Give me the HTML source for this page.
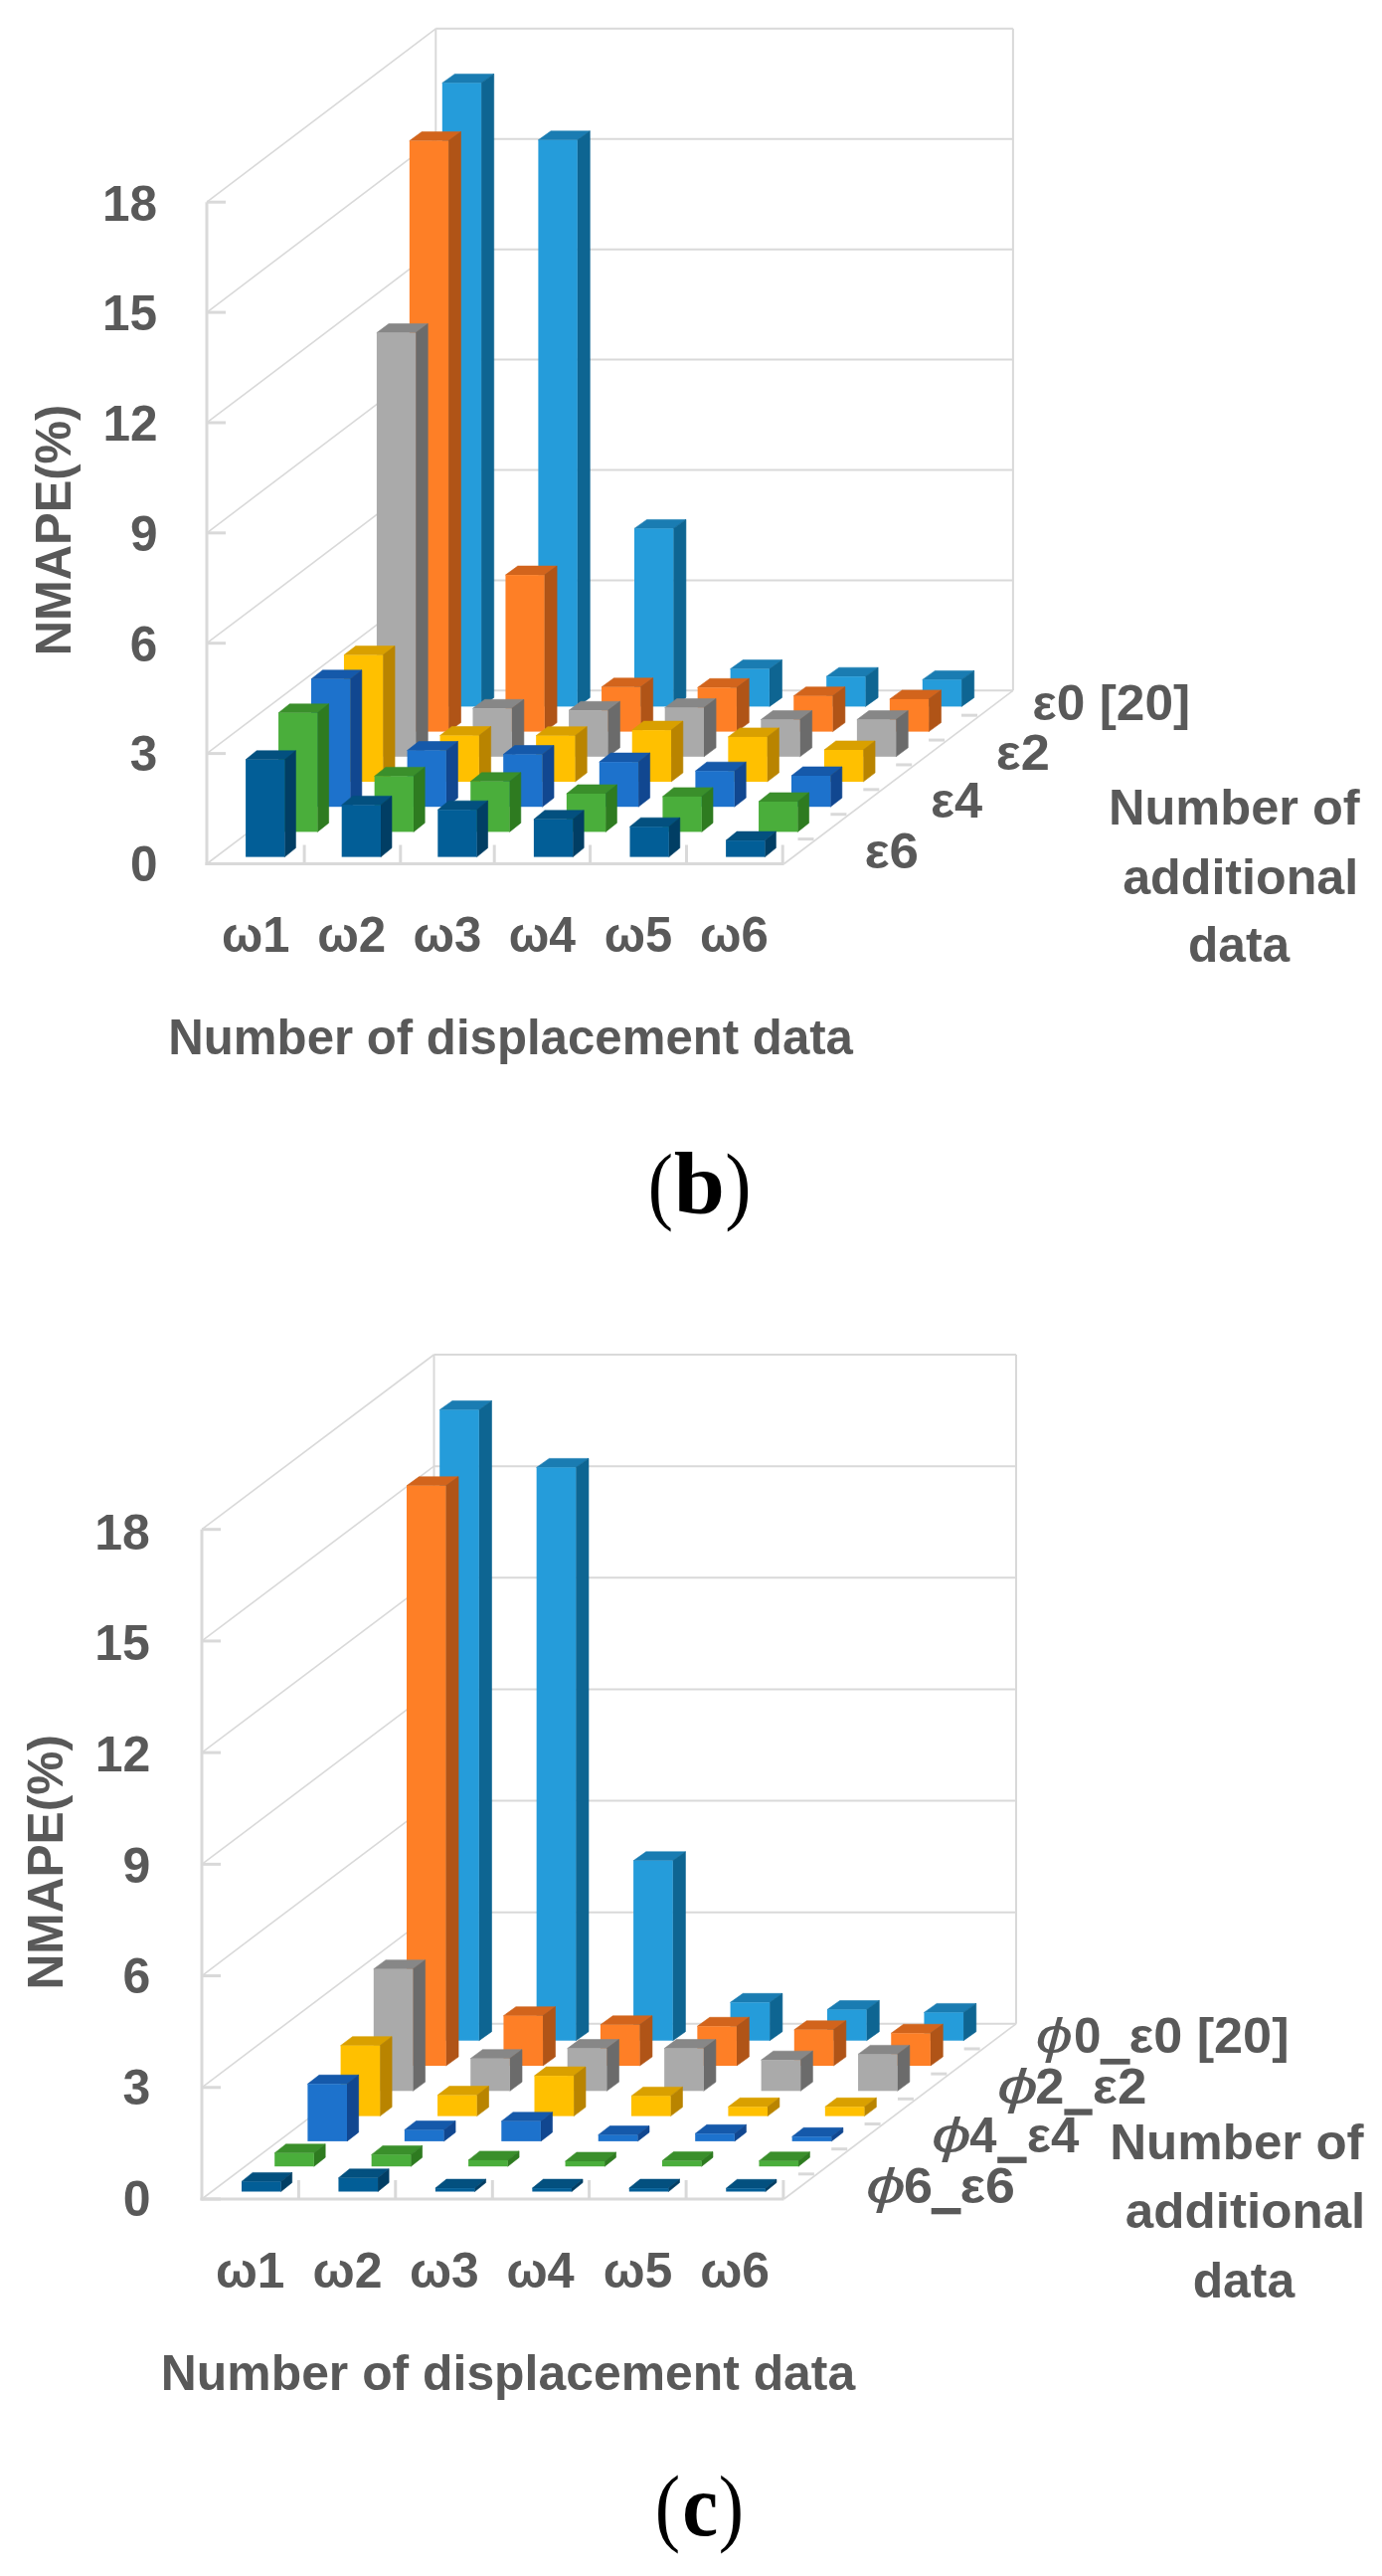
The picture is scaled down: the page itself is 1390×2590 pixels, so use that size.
<!DOCTYPE html>
<html><head><meta charset="utf-8"><title>NMAPE 3D charts</title>
<style>html,body{margin:0;padding:0;background:#fff;width:1390px;height:2590px;overflow:hidden}svg{display:block}text{font-kerning:none}</style>
</head><body>
<svg width="1390" height="2590" viewBox="0 0 1390 2590">
<rect width="1390" height="2590" fill="#fff"/>
<line x1="438.30" y1="28.80" x2="1018.90" y2="28.80" stroke="#D9D9D9" stroke-width="2"/>
<line x1="438.30" y1="139.72" x2="1018.90" y2="139.72" stroke="#D9D9D9" stroke-width="2"/>
<line x1="438.30" y1="250.63" x2="1018.90" y2="250.63" stroke="#D9D9D9" stroke-width="2"/>
<line x1="438.30" y1="361.55" x2="1018.90" y2="361.55" stroke="#D9D9D9" stroke-width="2"/>
<line x1="438.30" y1="472.47" x2="1018.90" y2="472.47" stroke="#D9D9D9" stroke-width="2"/>
<line x1="438.30" y1="583.38" x2="1018.90" y2="583.38" stroke="#D9D9D9" stroke-width="2"/>
<line x1="438.30" y1="694.30" x2="1018.90" y2="694.30" stroke="#D9D9D9" stroke-width="2"/>
<line x1="208.00" y1="203.20" x2="438.30" y2="28.80" stroke="#D9D9D9" stroke-width="1.6"/>
<line x1="208.00" y1="314.08" x2="438.30" y2="139.72" stroke="#D9D9D9" stroke-width="1.6"/>
<line x1="208.00" y1="424.97" x2="438.30" y2="250.63" stroke="#D9D9D9" stroke-width="1.6"/>
<line x1="208.00" y1="535.85" x2="438.30" y2="361.55" stroke="#D9D9D9" stroke-width="1.6"/>
<line x1="208.00" y1="646.73" x2="438.30" y2="472.47" stroke="#D9D9D9" stroke-width="1.6"/>
<line x1="208.00" y1="757.62" x2="438.30" y2="583.38" stroke="#D9D9D9" stroke-width="1.6"/>
<line x1="208.00" y1="868.50" x2="438.30" y2="694.30" stroke="#D9D9D9" stroke-width="1.6"/>
<line x1="438.30" y1="28.80" x2="438.30" y2="694.30" stroke="#D9D9D9" stroke-width="2"/>
<line x1="1018.90" y1="28.80" x2="1018.90" y2="694.30" stroke="#D9D9D9" stroke-width="2"/>
<line x1="788.60" y1="868.50" x2="1018.90" y2="694.30" stroke="#D9D9D9" stroke-width="1.6"/>
<line x1="802.50" y1="843.61" x2="818.50" y2="843.61" stroke="#D9D9D9" stroke-width="3"/>
<line x1="835.40" y1="818.73" x2="851.40" y2="818.73" stroke="#D9D9D9" stroke-width="3"/>
<line x1="868.30" y1="793.84" x2="884.30" y2="793.84" stroke="#D9D9D9" stroke-width="3"/>
<line x1="901.20" y1="768.96" x2="917.20" y2="768.96" stroke="#D9D9D9" stroke-width="3"/>
<line x1="934.10" y1="744.07" x2="950.10" y2="744.07" stroke="#D9D9D9" stroke-width="3"/>
<line x1="967.00" y1="719.19" x2="983.00" y2="719.19" stroke="#D9D9D9" stroke-width="3"/>
<polygon points="444.80,83.40 484.10,83.40 496.72,74.40 457.42,74.40" fill="#1A7CB2" stroke="#1A7CB2" stroke-width="0.6"/>
<polygon points="484.10,83.40 496.72,74.40 496.72,701.40 484.10,710.40" fill="#0E6592" stroke="#0E6592" stroke-width="0.6"/>
<rect x="444.80" y="83.40" width="39.30" height="627.00" fill="#259CDA"/>
<polygon points="541.40,140.80 580.70,140.80 593.32,131.80 554.02,131.80" fill="#1A7CB2" stroke="#1A7CB2" stroke-width="0.6"/>
<polygon points="580.70,140.80 593.32,131.80 593.32,701.40 580.70,710.40" fill="#0E6592" stroke="#0E6592" stroke-width="0.6"/>
<rect x="541.40" y="140.80" width="39.30" height="569.60" fill="#259CDA"/>
<polygon points="638.00,531.40 677.30,531.40 689.92,522.40 650.62,522.40" fill="#1A7CB2" stroke="#1A7CB2" stroke-width="0.6"/>
<polygon points="677.30,531.40 689.92,522.40 689.92,701.40 677.30,710.40" fill="#0E6592" stroke="#0E6592" stroke-width="0.6"/>
<rect x="638.00" y="531.40" width="39.30" height="179.00" fill="#259CDA"/>
<polygon points="734.60,672.60 773.90,672.60 786.52,663.60 747.22,663.60" fill="#1A7CB2" stroke="#1A7CB2" stroke-width="0.6"/>
<polygon points="773.90,672.60 786.52,663.60 786.52,701.40 773.90,710.40" fill="#0E6592" stroke="#0E6592" stroke-width="0.6"/>
<rect x="734.60" y="672.60" width="39.30" height="37.80" fill="#259CDA"/>
<polygon points="831.20,680.20 870.50,680.20 883.12,671.20 843.82,671.20" fill="#1A7CB2" stroke="#1A7CB2" stroke-width="0.6"/>
<polygon points="870.50,680.20 883.12,671.20 883.12,701.40 870.50,710.40" fill="#0E6592" stroke="#0E6592" stroke-width="0.6"/>
<rect x="831.20" y="680.20" width="39.30" height="30.20" fill="#259CDA"/>
<polygon points="927.80,683.40 967.10,683.40 979.72,674.40 940.42,674.40" fill="#1A7CB2" stroke="#1A7CB2" stroke-width="0.6"/>
<polygon points="967.10,683.40 979.72,674.40 979.72,701.40 967.10,710.40" fill="#0E6592" stroke="#0E6592" stroke-width="0.6"/>
<rect x="927.80" y="683.40" width="39.30" height="27.00" fill="#259CDA"/>
<polygon points="411.85,141.60 451.15,141.60 463.50,132.60 424.20,132.60" fill="#D2641C" stroke="#D2641C" stroke-width="0.6"/>
<polygon points="451.15,141.60 463.50,132.60 463.50,726.60 451.15,735.60" fill="#B05417" stroke="#B05417" stroke-width="0.6"/>
<rect x="411.85" y="141.60" width="39.30" height="594.00" fill="#FE7F26"/>
<polygon points="508.45,578.10 547.75,578.10 560.10,569.10 520.80,569.10" fill="#D2641C" stroke="#D2641C" stroke-width="0.6"/>
<polygon points="547.75,578.10 560.10,569.10 560.10,726.60 547.75,735.60" fill="#B05417" stroke="#B05417" stroke-width="0.6"/>
<rect x="508.45" y="578.10" width="39.30" height="157.50" fill="#FE7F26"/>
<polygon points="605.05,690.80 644.35,690.80 656.70,681.80 617.40,681.80" fill="#D2641C" stroke="#D2641C" stroke-width="0.6"/>
<polygon points="644.35,690.80 656.70,681.80 656.70,726.60 644.35,735.60" fill="#B05417" stroke="#B05417" stroke-width="0.6"/>
<rect x="605.05" y="690.80" width="39.30" height="44.80" fill="#FE7F26"/>
<polygon points="701.65,691.30 740.95,691.30 753.30,682.30 714.00,682.30" fill="#D2641C" stroke="#D2641C" stroke-width="0.6"/>
<polygon points="740.95,691.30 753.30,682.30 753.30,726.60 740.95,735.60" fill="#B05417" stroke="#B05417" stroke-width="0.6"/>
<rect x="701.65" y="691.30" width="39.30" height="44.30" fill="#FE7F26"/>
<polygon points="798.25,699.70 837.55,699.70 849.90,690.70 810.60,690.70" fill="#D2641C" stroke="#D2641C" stroke-width="0.6"/>
<polygon points="837.55,699.70 849.90,690.70 849.90,726.60 837.55,735.60" fill="#B05417" stroke="#B05417" stroke-width="0.6"/>
<rect x="798.25" y="699.70" width="39.30" height="35.90" fill="#FE7F26"/>
<polygon points="894.85,702.90 934.15,702.90 946.50,693.90 907.20,693.90" fill="#D2641C" stroke="#D2641C" stroke-width="0.6"/>
<polygon points="934.15,702.90 946.50,693.90 946.50,726.60 934.15,735.60" fill="#B05417" stroke="#B05417" stroke-width="0.6"/>
<rect x="894.85" y="702.90" width="39.30" height="32.70" fill="#FE7F26"/>
<polygon points="378.90,334.60 418.20,334.60 430.28,325.60 390.98,325.60" fill="#878787" stroke="#878787" stroke-width="0.6"/>
<polygon points="418.20,334.60 430.28,325.60 430.28,751.80 418.20,760.80" fill="#6B6B6B" stroke="#6B6B6B" stroke-width="0.6"/>
<rect x="378.90" y="334.60" width="39.30" height="426.20" fill="#AAAAAA"/>
<polygon points="475.50,712.30 514.80,712.30 526.88,703.30 487.58,703.30" fill="#878787" stroke="#878787" stroke-width="0.6"/>
<polygon points="514.80,712.30 526.88,703.30 526.88,751.80 514.80,760.80" fill="#6B6B6B" stroke="#6B6B6B" stroke-width="0.6"/>
<rect x="475.50" y="712.30" width="39.30" height="48.50" fill="#AAAAAA"/>
<polygon points="572.10,714.30 611.40,714.30 623.48,705.30 584.18,705.30" fill="#878787" stroke="#878787" stroke-width="0.6"/>
<polygon points="611.40,714.30 623.48,705.30 623.48,751.80 611.40,760.80" fill="#6B6B6B" stroke="#6B6B6B" stroke-width="0.6"/>
<rect x="572.10" y="714.30" width="39.30" height="46.50" fill="#AAAAAA"/>
<polygon points="668.70,711.50 708.00,711.50 720.08,702.50 680.78,702.50" fill="#878787" stroke="#878787" stroke-width="0.6"/>
<polygon points="708.00,711.50 720.08,702.50 720.08,751.80 708.00,760.80" fill="#6B6B6B" stroke="#6B6B6B" stroke-width="0.6"/>
<rect x="668.70" y="711.50" width="39.30" height="49.30" fill="#AAAAAA"/>
<polygon points="765.30,723.60 804.60,723.60 816.68,714.60 777.38,714.60" fill="#878787" stroke="#878787" stroke-width="0.6"/>
<polygon points="804.60,723.60 816.68,714.60 816.68,751.80 804.60,760.80" fill="#6B6B6B" stroke="#6B6B6B" stroke-width="0.6"/>
<rect x="765.30" y="723.60" width="39.30" height="37.20" fill="#AAAAAA"/>
<polygon points="861.90,723.60 901.20,723.60 913.28,714.60 873.98,714.60" fill="#878787" stroke="#878787" stroke-width="0.6"/>
<polygon points="901.20,723.60 913.28,714.60 913.28,751.80 901.20,760.80" fill="#6B6B6B" stroke="#6B6B6B" stroke-width="0.6"/>
<rect x="861.90" y="723.60" width="39.30" height="37.20" fill="#AAAAAA"/>
<polygon points="345.95,658.60 385.25,658.60 397.06,649.60 357.76,649.60" fill="#D9A000" stroke="#D9A000" stroke-width="0.6"/>
<polygon points="385.25,658.60 397.06,649.60 397.06,777.00 385.25,786.00" fill="#B98400" stroke="#B98400" stroke-width="0.6"/>
<rect x="345.95" y="658.60" width="39.30" height="127.40" fill="#FFC000"/>
<polygon points="442.55,739.50 481.85,739.50 493.66,730.50 454.36,730.50" fill="#D9A000" stroke="#D9A000" stroke-width="0.6"/>
<polygon points="481.85,739.50 493.66,730.50 493.66,777.00 481.85,786.00" fill="#B98400" stroke="#B98400" stroke-width="0.6"/>
<rect x="442.55" y="739.50" width="39.30" height="46.50" fill="#FFC000"/>
<polygon points="539.15,739.70 578.45,739.70 590.26,730.70 550.96,730.70" fill="#D9A000" stroke="#D9A000" stroke-width="0.6"/>
<polygon points="578.45,739.70 590.26,730.70 590.26,777.00 578.45,786.00" fill="#B98400" stroke="#B98400" stroke-width="0.6"/>
<rect x="539.15" y="739.70" width="39.30" height="46.30" fill="#FFC000"/>
<polygon points="635.75,734.10 675.05,734.10 686.86,725.10 647.56,725.10" fill="#D9A000" stroke="#D9A000" stroke-width="0.6"/>
<polygon points="675.05,734.10 686.86,725.10 686.86,777.00 675.05,786.00" fill="#B98400" stroke="#B98400" stroke-width="0.6"/>
<rect x="635.75" y="734.10" width="39.30" height="51.90" fill="#FFC000"/>
<polygon points="732.35,740.90 771.65,740.90 783.46,731.90 744.16,731.90" fill="#D9A000" stroke="#D9A000" stroke-width="0.6"/>
<polygon points="771.65,740.90 783.46,731.90 783.46,777.00 771.65,786.00" fill="#B98400" stroke="#B98400" stroke-width="0.6"/>
<rect x="732.35" y="740.90" width="39.30" height="45.10" fill="#FFC000"/>
<polygon points="828.95,754.00 868.25,754.00 880.06,745.00 840.76,745.00" fill="#D9A000" stroke="#D9A000" stroke-width="0.6"/>
<polygon points="868.25,754.00 880.06,745.00 880.06,777.00 868.25,786.00" fill="#B98400" stroke="#B98400" stroke-width="0.6"/>
<rect x="828.95" y="754.00" width="39.30" height="32.00" fill="#FFC000"/>
<polygon points="313.00,682.80 352.30,682.80 363.84,673.80 324.54,673.80" fill="#1559AA" stroke="#1559AA" stroke-width="0.6"/>
<polygon points="352.30,682.80 363.84,673.80 363.84,802.20 352.30,811.20" fill="#114790" stroke="#114790" stroke-width="0.6"/>
<rect x="313.00" y="682.80" width="39.30" height="128.40" fill="#1D72CC"/>
<polygon points="409.60,754.50 448.90,754.50 460.44,745.50 421.14,745.50" fill="#1559AA" stroke="#1559AA" stroke-width="0.6"/>
<polygon points="448.90,754.50 460.44,745.50 460.44,802.20 448.90,811.20" fill="#114790" stroke="#114790" stroke-width="0.6"/>
<rect x="409.60" y="754.50" width="39.30" height="56.70" fill="#1D72CC"/>
<polygon points="506.20,758.50 545.50,758.50 557.04,749.50 517.74,749.50" fill="#1559AA" stroke="#1559AA" stroke-width="0.6"/>
<polygon points="545.50,758.50 557.04,749.50 557.04,802.20 545.50,811.20" fill="#114790" stroke="#114790" stroke-width="0.6"/>
<rect x="506.20" y="758.50" width="39.30" height="52.70" fill="#1D72CC"/>
<polygon points="602.80,766.10 642.10,766.10 653.64,757.10 614.34,757.10" fill="#1559AA" stroke="#1559AA" stroke-width="0.6"/>
<polygon points="642.10,766.10 653.64,757.10 653.64,802.20 642.10,811.20" fill="#114790" stroke="#114790" stroke-width="0.6"/>
<rect x="602.80" y="766.10" width="39.30" height="45.10" fill="#1D72CC"/>
<polygon points="699.40,775.20 738.70,775.20 750.24,766.20 710.94,766.20" fill="#1559AA" stroke="#1559AA" stroke-width="0.6"/>
<polygon points="738.70,775.20 750.24,766.20 750.24,802.20 738.70,811.20" fill="#114790" stroke="#114790" stroke-width="0.6"/>
<rect x="699.40" y="775.20" width="39.30" height="36.00" fill="#1D72CC"/>
<polygon points="796.00,780.00 835.30,780.00 846.84,771.00 807.54,771.00" fill="#1559AA" stroke="#1559AA" stroke-width="0.6"/>
<polygon points="835.30,780.00 846.84,771.00 846.84,802.20 835.30,811.20" fill="#114790" stroke="#114790" stroke-width="0.6"/>
<rect x="796.00" y="780.00" width="39.30" height="31.20" fill="#1D72CC"/>
<polygon points="280.05,716.80 319.35,716.80 330.62,707.80 291.32,707.80" fill="#3A8F2B" stroke="#3A8F2B" stroke-width="0.6"/>
<polygon points="319.35,716.80 330.62,707.80 330.62,827.40 319.35,836.40" fill="#2E7B20" stroke="#2E7B20" stroke-width="0.6"/>
<rect x="280.05" y="716.80" width="39.30" height="119.60" fill="#4AAE3B"/>
<polygon points="376.65,780.40 415.95,780.40 427.22,771.40 387.92,771.40" fill="#3A8F2B" stroke="#3A8F2B" stroke-width="0.6"/>
<polygon points="415.95,780.40 427.22,771.40 427.22,827.40 415.95,836.40" fill="#2E7B20" stroke="#2E7B20" stroke-width="0.6"/>
<rect x="376.65" y="780.40" width="39.30" height="56.00" fill="#4AAE3B"/>
<polygon points="473.25,785.80 512.55,785.80 523.82,776.80 484.52,776.80" fill="#3A8F2B" stroke="#3A8F2B" stroke-width="0.6"/>
<polygon points="512.55,785.80 523.82,776.80 523.82,827.40 512.55,836.40" fill="#2E7B20" stroke="#2E7B20" stroke-width="0.6"/>
<rect x="473.25" y="785.80" width="39.30" height="50.60" fill="#4AAE3B"/>
<polygon points="569.85,798.00 609.15,798.00 620.42,789.00 581.12,789.00" fill="#3A8F2B" stroke="#3A8F2B" stroke-width="0.6"/>
<polygon points="609.15,798.00 620.42,789.00 620.42,827.40 609.15,836.40" fill="#2E7B20" stroke="#2E7B20" stroke-width="0.6"/>
<rect x="569.85" y="798.00" width="39.30" height="38.40" fill="#4AAE3B"/>
<polygon points="666.45,800.90 705.75,800.90 717.02,791.90 677.72,791.90" fill="#3A8F2B" stroke="#3A8F2B" stroke-width="0.6"/>
<polygon points="705.75,800.90 717.02,791.90 717.02,827.40 705.75,836.40" fill="#2E7B20" stroke="#2E7B20" stroke-width="0.6"/>
<rect x="666.45" y="800.90" width="39.30" height="35.50" fill="#4AAE3B"/>
<polygon points="763.05,806.00 802.35,806.00 813.62,797.00 774.32,797.00" fill="#3A8F2B" stroke="#3A8F2B" stroke-width="0.6"/>
<polygon points="802.35,806.00 813.62,797.00 813.62,827.40 802.35,836.40" fill="#2E7B20" stroke="#2E7B20" stroke-width="0.6"/>
<rect x="763.05" y="806.00" width="39.30" height="30.40" fill="#4AAE3B"/>
<polygon points="247.10,763.80 286.40,763.80 297.40,754.80 258.10,754.80" fill="#03507F" stroke="#03507F" stroke-width="0.6"/>
<polygon points="286.40,763.80 297.40,754.80 297.40,852.60 286.40,861.60" fill="#013E64" stroke="#013E64" stroke-width="0.6"/>
<rect x="247.10" y="763.80" width="39.30" height="97.80" fill="#025E97"/>
<polygon points="343.70,809.40 383.00,809.40 394.00,800.40 354.70,800.40" fill="#03507F" stroke="#03507F" stroke-width="0.6"/>
<polygon points="383.00,809.40 394.00,800.40 394.00,852.60 383.00,861.60" fill="#013E64" stroke="#013E64" stroke-width="0.6"/>
<rect x="343.70" y="809.40" width="39.30" height="52.20" fill="#025E97"/>
<polygon points="440.30,814.20 479.60,814.20 490.60,805.20 451.30,805.20" fill="#03507F" stroke="#03507F" stroke-width="0.6"/>
<polygon points="479.60,814.20 490.60,805.20 490.60,852.60 479.60,861.60" fill="#013E64" stroke="#013E64" stroke-width="0.6"/>
<rect x="440.30" y="814.20" width="39.30" height="47.40" fill="#025E97"/>
<polygon points="536.90,823.80 576.20,823.80 587.20,814.80 547.90,814.80" fill="#03507F" stroke="#03507F" stroke-width="0.6"/>
<polygon points="576.20,823.80 587.20,814.80 587.20,852.60 576.20,861.60" fill="#013E64" stroke="#013E64" stroke-width="0.6"/>
<rect x="536.90" y="823.80" width="39.30" height="37.80" fill="#025E97"/>
<polygon points="633.50,831.20 672.80,831.20 683.80,822.20 644.50,822.20" fill="#03507F" stroke="#03507F" stroke-width="0.6"/>
<polygon points="672.80,831.20 683.80,822.20 683.80,852.60 672.80,861.60" fill="#013E64" stroke="#013E64" stroke-width="0.6"/>
<rect x="633.50" y="831.20" width="39.30" height="30.40" fill="#025E97"/>
<polygon points="730.10,845.10 769.40,845.10 780.40,836.10 741.10,836.10" fill="#03507F" stroke="#03507F" stroke-width="0.6"/>
<polygon points="769.40,845.10 780.40,836.10 780.40,852.60 769.40,861.60" fill="#013E64" stroke="#013E64" stroke-width="0.6"/>
<rect x="730.10" y="845.10" width="39.30" height="16.50" fill="#025E97"/>
<line x1="208.00" y1="203.20" x2="208.00" y2="870.00" stroke="#D9D9D9" stroke-width="3"/>
<line x1="206.50" y1="868.50" x2="788.60" y2="868.50" stroke="#D9D9D9" stroke-width="3"/>
<line x1="208.00" y1="203.20" x2="227.00" y2="203.20" stroke="#D9D9D9" stroke-width="3"/>
<line x1="208.00" y1="314.08" x2="227.00" y2="314.08" stroke="#D9D9D9" stroke-width="3"/>
<line x1="208.00" y1="424.97" x2="227.00" y2="424.97" stroke="#D9D9D9" stroke-width="3"/>
<line x1="208.00" y1="535.85" x2="227.00" y2="535.85" stroke="#D9D9D9" stroke-width="3"/>
<line x1="208.00" y1="646.73" x2="227.00" y2="646.73" stroke="#D9D9D9" stroke-width="3"/>
<line x1="208.00" y1="757.62" x2="227.00" y2="757.62" stroke="#D9D9D9" stroke-width="3"/>
<line x1="208.00" y1="868.50" x2="227.00" y2="868.50" stroke="#D9D9D9" stroke-width="3"/>
<line x1="306.10" y1="849.50" x2="306.10" y2="868.50" stroke="#D9D9D9" stroke-width="3"/>
<line x1="402.80" y1="849.50" x2="402.80" y2="868.50" stroke="#D9D9D9" stroke-width="3"/>
<line x1="497.20" y1="849.50" x2="497.20" y2="868.50" stroke="#D9D9D9" stroke-width="3"/>
<line x1="593.60" y1="849.50" x2="593.60" y2="868.50" stroke="#D9D9D9" stroke-width="3"/>
<line x1="690.50" y1="849.50" x2="690.50" y2="868.50" stroke="#D9D9D9" stroke-width="3"/>
<line x1="787.20" y1="849.50" x2="787.20" y2="868.50" stroke="#D9D9D9" stroke-width="3"/>
<line x1="436.50" y1="1362.00" x2="1022.00" y2="1362.00" stroke="#D9D9D9" stroke-width="2"/>
<line x1="436.50" y1="1474.13" x2="1022.00" y2="1474.13" stroke="#D9D9D9" stroke-width="2"/>
<line x1="436.50" y1="1586.27" x2="1022.00" y2="1586.27" stroke="#D9D9D9" stroke-width="2"/>
<line x1="436.50" y1="1698.40" x2="1022.00" y2="1698.40" stroke="#D9D9D9" stroke-width="2"/>
<line x1="436.50" y1="1810.53" x2="1022.00" y2="1810.53" stroke="#D9D9D9" stroke-width="2"/>
<line x1="436.50" y1="1922.67" x2="1022.00" y2="1922.67" stroke="#D9D9D9" stroke-width="2"/>
<line x1="436.50" y1="2034.80" x2="1022.00" y2="2034.80" stroke="#D9D9D9" stroke-width="2"/>
<line x1="203.00" y1="1537.70" x2="436.50" y2="1362.00" stroke="#D9D9D9" stroke-width="1.6"/>
<line x1="203.00" y1="1649.92" x2="436.50" y2="1474.13" stroke="#D9D9D9" stroke-width="1.6"/>
<line x1="203.00" y1="1762.13" x2="436.50" y2="1586.27" stroke="#D9D9D9" stroke-width="1.6"/>
<line x1="203.00" y1="1874.35" x2="436.50" y2="1698.40" stroke="#D9D9D9" stroke-width="1.6"/>
<line x1="203.00" y1="1986.57" x2="436.50" y2="1810.53" stroke="#D9D9D9" stroke-width="1.6"/>
<line x1="203.00" y1="2098.78" x2="436.50" y2="1922.67" stroke="#D9D9D9" stroke-width="1.6"/>
<line x1="203.00" y1="2211.00" x2="436.50" y2="2034.80" stroke="#D9D9D9" stroke-width="1.6"/>
<line x1="436.50" y1="1362.00" x2="436.50" y2="2034.80" stroke="#D9D9D9" stroke-width="2"/>
<line x1="1022.00" y1="1362.00" x2="1022.00" y2="2034.80" stroke="#D9D9D9" stroke-width="2"/>
<line x1="788.50" y1="2211.00" x2="1022.00" y2="2034.80" stroke="#D9D9D9" stroke-width="1.6"/>
<line x1="802.86" y1="2185.83" x2="818.86" y2="2185.83" stroke="#D9D9D9" stroke-width="3"/>
<line x1="836.21" y1="2160.66" x2="852.21" y2="2160.66" stroke="#D9D9D9" stroke-width="3"/>
<line x1="869.57" y1="2135.49" x2="885.57" y2="2135.49" stroke="#D9D9D9" stroke-width="3"/>
<line x1="902.93" y1="2110.31" x2="918.93" y2="2110.31" stroke="#D9D9D9" stroke-width="3"/>
<line x1="936.29" y1="2085.14" x2="952.29" y2="2085.14" stroke="#D9D9D9" stroke-width="3"/>
<line x1="969.64" y1="2059.97" x2="985.64" y2="2059.97" stroke="#D9D9D9" stroke-width="3"/>
<polygon points="442.20,1417.50 481.80,1417.50 494.52,1408.50 454.92,1408.50" fill="#1A7CB2" stroke="#1A7CB2" stroke-width="0.6"/>
<polygon points="481.80,1417.50 494.52,1408.50 494.52,2042.70 481.80,2051.70" fill="#0E6592" stroke="#0E6592" stroke-width="0.6"/>
<rect x="442.20" y="1417.50" width="39.60" height="634.20" fill="#259CDA"/>
<polygon points="539.65,1475.40 579.25,1475.40 591.97,1466.40 552.37,1466.40" fill="#1A7CB2" stroke="#1A7CB2" stroke-width="0.6"/>
<polygon points="579.25,1475.40 591.97,1466.40 591.97,2042.70 579.25,2051.70" fill="#0E6592" stroke="#0E6592" stroke-width="0.6"/>
<rect x="539.65" y="1475.40" width="39.60" height="576.30" fill="#259CDA"/>
<polygon points="637.10,1870.80 676.70,1870.80 689.42,1861.80 649.82,1861.80" fill="#1A7CB2" stroke="#1A7CB2" stroke-width="0.6"/>
<polygon points="676.70,1870.80 689.42,1861.80 689.42,2042.70 676.70,2051.70" fill="#0E6592" stroke="#0E6592" stroke-width="0.6"/>
<rect x="637.10" y="1870.80" width="39.60" height="180.90" fill="#259CDA"/>
<polygon points="734.55,2013.30 774.15,2013.30 786.87,2004.30 747.27,2004.30" fill="#1A7CB2" stroke="#1A7CB2" stroke-width="0.6"/>
<polygon points="774.15,2013.30 786.87,2004.30 786.87,2042.70 774.15,2051.70" fill="#0E6592" stroke="#0E6592" stroke-width="0.6"/>
<rect x="734.55" y="2013.30" width="39.60" height="38.40" fill="#259CDA"/>
<polygon points="832.00,2020.50 871.60,2020.50 884.32,2011.50 844.72,2011.50" fill="#1A7CB2" stroke="#1A7CB2" stroke-width="0.6"/>
<polygon points="871.60,2020.50 884.32,2011.50 884.32,2042.70 871.60,2051.70" fill="#0E6592" stroke="#0E6592" stroke-width="0.6"/>
<rect x="832.00" y="2020.50" width="39.60" height="31.20" fill="#259CDA"/>
<polygon points="929.45,2023.40 969.05,2023.40 981.77,2014.40 942.17,2014.40" fill="#1A7CB2" stroke="#1A7CB2" stroke-width="0.6"/>
<polygon points="969.05,2023.40 981.77,2014.40 981.77,2042.70 969.05,2051.70" fill="#0E6592" stroke="#0E6592" stroke-width="0.6"/>
<rect x="929.45" y="2023.40" width="39.60" height="28.30" fill="#259CDA"/>
<polygon points="409.00,1493.80 448.60,1493.80 461.05,1484.80 421.45,1484.80" fill="#D2641C" stroke="#D2641C" stroke-width="0.6"/>
<polygon points="448.60,1493.80 461.05,1484.80 461.05,2068.00 448.60,2077.00" fill="#B05417" stroke="#B05417" stroke-width="0.6"/>
<rect x="409.00" y="1493.80" width="39.60" height="583.20" fill="#FE7F26"/>
<polygon points="506.45,2026.70 546.05,2026.70 558.50,2017.70 518.90,2017.70" fill="#D2641C" stroke="#D2641C" stroke-width="0.6"/>
<polygon points="546.05,2026.70 558.50,2017.70 558.50,2068.00 546.05,2077.00" fill="#B05417" stroke="#B05417" stroke-width="0.6"/>
<rect x="506.45" y="2026.70" width="39.60" height="50.30" fill="#FE7F26"/>
<polygon points="603.90,2035.80 643.50,2035.80 655.95,2026.80 616.35,2026.80" fill="#D2641C" stroke="#D2641C" stroke-width="0.6"/>
<polygon points="643.50,2035.80 655.95,2026.80 655.95,2068.00 643.50,2077.00" fill="#B05417" stroke="#B05417" stroke-width="0.6"/>
<rect x="603.90" y="2035.80" width="39.60" height="41.20" fill="#FE7F26"/>
<polygon points="701.35,2037.30 740.95,2037.30 753.40,2028.30 713.80,2028.30" fill="#D2641C" stroke="#D2641C" stroke-width="0.6"/>
<polygon points="740.95,2037.30 753.40,2028.30 753.40,2068.00 740.95,2077.00" fill="#B05417" stroke="#B05417" stroke-width="0.6"/>
<rect x="701.35" y="2037.30" width="39.60" height="39.70" fill="#FE7F26"/>
<polygon points="798.80,2040.80 838.40,2040.80 850.85,2031.80 811.25,2031.80" fill="#D2641C" stroke="#D2641C" stroke-width="0.6"/>
<polygon points="838.40,2040.80 850.85,2031.80 850.85,2068.00 838.40,2077.00" fill="#B05417" stroke="#B05417" stroke-width="0.6"/>
<rect x="798.80" y="2040.80" width="39.60" height="36.20" fill="#FE7F26"/>
<polygon points="896.25,2044.30 935.85,2044.30 948.30,2035.30 908.70,2035.30" fill="#D2641C" stroke="#D2641C" stroke-width="0.6"/>
<polygon points="935.85,2044.30 948.30,2035.30 948.30,2068.00 935.85,2077.00" fill="#B05417" stroke="#B05417" stroke-width="0.6"/>
<rect x="896.25" y="2044.30" width="39.60" height="32.70" fill="#FE7F26"/>
<polygon points="375.80,1979.70 415.40,1979.70 427.58,1970.70 387.98,1970.70" fill="#878787" stroke="#878787" stroke-width="0.6"/>
<polygon points="415.40,1979.70 427.58,1970.70 427.58,2093.30 415.40,2102.30" fill="#6B6B6B" stroke="#6B6B6B" stroke-width="0.6"/>
<rect x="375.80" y="1979.70" width="39.60" height="122.60" fill="#AAAAAA"/>
<polygon points="473.25,2069.70 512.85,2069.70 525.03,2060.70 485.43,2060.70" fill="#878787" stroke="#878787" stroke-width="0.6"/>
<polygon points="512.85,2069.70 525.03,2060.70 525.03,2093.30 512.85,2102.30" fill="#6B6B6B" stroke="#6B6B6B" stroke-width="0.6"/>
<rect x="473.25" y="2069.70" width="39.60" height="32.60" fill="#AAAAAA"/>
<polygon points="570.70,2059.60 610.30,2059.60 622.48,2050.60 582.88,2050.60" fill="#878787" stroke="#878787" stroke-width="0.6"/>
<polygon points="610.30,2059.60 622.48,2050.60 622.48,2093.30 610.30,2102.30" fill="#6B6B6B" stroke="#6B6B6B" stroke-width="0.6"/>
<rect x="570.70" y="2059.60" width="39.60" height="42.70" fill="#AAAAAA"/>
<polygon points="668.15,2059.60 707.75,2059.60 719.93,2050.60 680.33,2050.60" fill="#878787" stroke="#878787" stroke-width="0.6"/>
<polygon points="707.75,2059.60 719.93,2050.60 719.93,2093.30 707.75,2102.30" fill="#6B6B6B" stroke="#6B6B6B" stroke-width="0.6"/>
<rect x="668.15" y="2059.60" width="39.60" height="42.70" fill="#AAAAAA"/>
<polygon points="765.60,2071.20 805.20,2071.20 817.38,2062.20 777.78,2062.20" fill="#878787" stroke="#878787" stroke-width="0.6"/>
<polygon points="805.20,2071.20 817.38,2062.20 817.38,2093.30 805.20,2102.30" fill="#6B6B6B" stroke="#6B6B6B" stroke-width="0.6"/>
<rect x="765.60" y="2071.20" width="39.60" height="31.10" fill="#AAAAAA"/>
<polygon points="863.05,2065.40 902.65,2065.40 914.83,2056.40 875.23,2056.40" fill="#878787" stroke="#878787" stroke-width="0.6"/>
<polygon points="902.65,2065.40 914.83,2056.40 914.83,2093.30 902.65,2102.30" fill="#6B6B6B" stroke="#6B6B6B" stroke-width="0.6"/>
<rect x="863.05" y="2065.40" width="39.60" height="36.90" fill="#AAAAAA"/>
<polygon points="342.60,2056.70 382.20,2056.70 394.11,2047.70 354.51,2047.70" fill="#D9A000" stroke="#D9A000" stroke-width="0.6"/>
<polygon points="382.20,2056.70 394.11,2047.70 394.11,2118.60 382.20,2127.60" fill="#B98400" stroke="#B98400" stroke-width="0.6"/>
<rect x="342.60" y="2056.70" width="39.60" height="70.90" fill="#FFC000"/>
<polygon points="440.05,2106.60 479.65,2106.60 491.56,2097.60 451.96,2097.60" fill="#D9A000" stroke="#D9A000" stroke-width="0.6"/>
<polygon points="479.65,2106.60 491.56,2097.60 491.56,2118.60 479.65,2127.60" fill="#B98400" stroke="#B98400" stroke-width="0.6"/>
<rect x="440.05" y="2106.60" width="39.60" height="21.00" fill="#FFC000"/>
<polygon points="537.50,2087.10 577.10,2087.10 589.01,2078.10 549.41,2078.10" fill="#D9A000" stroke="#D9A000" stroke-width="0.6"/>
<polygon points="577.10,2087.10 589.01,2078.10 589.01,2118.60 577.10,2127.60" fill="#B98400" stroke="#B98400" stroke-width="0.6"/>
<rect x="537.50" y="2087.10" width="39.60" height="40.50" fill="#FFC000"/>
<polygon points="634.95,2107.40 674.55,2107.40 686.46,2098.40 646.86,2098.40" fill="#D9A000" stroke="#D9A000" stroke-width="0.6"/>
<polygon points="674.55,2107.40 686.46,2098.40 686.46,2118.60 674.55,2127.60" fill="#B98400" stroke="#B98400" stroke-width="0.6"/>
<rect x="634.95" y="2107.40" width="39.60" height="20.20" fill="#FFC000"/>
<polygon points="732.40,2118.30 772.00,2118.30 783.91,2109.30 744.31,2109.30" fill="#D9A000" stroke="#D9A000" stroke-width="0.6"/>
<polygon points="772.00,2118.30 783.91,2109.30 783.91,2118.60 772.00,2127.60" fill="#B98400" stroke="#B98400" stroke-width="0.6"/>
<rect x="732.40" y="2118.30" width="39.60" height="9.30" fill="#FFC000"/>
<polygon points="829.85,2118.30 869.45,2118.30 881.36,2109.30 841.76,2109.30" fill="#D9A000" stroke="#D9A000" stroke-width="0.6"/>
<polygon points="869.45,2118.30 881.36,2109.30 881.36,2118.60 869.45,2127.60" fill="#B98400" stroke="#B98400" stroke-width="0.6"/>
<rect x="829.85" y="2118.30" width="39.60" height="9.30" fill="#FFC000"/>
<polygon points="309.40,2095.30 349.00,2095.30 360.64,2086.30 321.04,2086.30" fill="#1559AA" stroke="#1559AA" stroke-width="0.6"/>
<polygon points="349.00,2095.30 360.64,2086.30 360.64,2143.90 349.00,2152.90" fill="#114790" stroke="#114790" stroke-width="0.6"/>
<rect x="309.40" y="2095.30" width="39.60" height="57.60" fill="#1D72CC"/>
<polygon points="406.85,2141.50 446.45,2141.50 458.09,2132.50 418.49,2132.50" fill="#1559AA" stroke="#1559AA" stroke-width="0.6"/>
<polygon points="446.45,2141.50 458.09,2132.50 458.09,2143.90 446.45,2152.90" fill="#114790" stroke="#114790" stroke-width="0.6"/>
<rect x="406.85" y="2141.50" width="39.60" height="11.40" fill="#1D72CC"/>
<polygon points="504.30,2132.80 543.90,2132.80 555.54,2123.80 515.94,2123.80" fill="#1559AA" stroke="#1559AA" stroke-width="0.6"/>
<polygon points="543.90,2132.80 555.54,2123.80 555.54,2143.90 543.90,2152.90" fill="#114790" stroke="#114790" stroke-width="0.6"/>
<rect x="504.30" y="2132.80" width="39.60" height="20.10" fill="#1D72CC"/>
<polygon points="601.75,2146.50 641.35,2146.50 652.99,2137.50 613.39,2137.50" fill="#1559AA" stroke="#1559AA" stroke-width="0.6"/>
<polygon points="641.35,2146.50 652.99,2137.50 652.99,2143.90 641.35,2152.90" fill="#114790" stroke="#114790" stroke-width="0.6"/>
<rect x="601.75" y="2146.50" width="39.60" height="6.40" fill="#1D72CC"/>
<polygon points="699.20,2145.30 738.80,2145.30 750.44,2136.30 710.84,2136.30" fill="#1559AA" stroke="#1559AA" stroke-width="0.6"/>
<polygon points="738.80,2145.30 750.44,2136.30 750.44,2143.90 738.80,2152.90" fill="#114790" stroke="#114790" stroke-width="0.6"/>
<rect x="699.20" y="2145.30" width="39.60" height="7.60" fill="#1D72CC"/>
<polygon points="796.65,2148.30 836.25,2148.30 847.89,2139.30 808.29,2139.30" fill="#1559AA" stroke="#1559AA" stroke-width="0.6"/>
<polygon points="836.25,2148.30 847.89,2139.30 847.89,2143.90 836.25,2152.90" fill="#114790" stroke="#114790" stroke-width="0.6"/>
<rect x="796.65" y="2148.30" width="39.60" height="4.60" fill="#1D72CC"/>
<polygon points="276.20,2164.80 315.80,2164.80 327.17,2155.80 287.57,2155.80" fill="#3A8F2B" stroke="#3A8F2B" stroke-width="0.6"/>
<polygon points="315.80,2164.80 327.17,2155.80 327.17,2169.20 315.80,2178.20" fill="#2E7B20" stroke="#2E7B20" stroke-width="0.6"/>
<rect x="276.20" y="2164.80" width="39.60" height="13.40" fill="#4AAE3B"/>
<polygon points="373.65,2166.40 413.25,2166.40 424.62,2157.40 385.02,2157.40" fill="#3A8F2B" stroke="#3A8F2B" stroke-width="0.6"/>
<polygon points="413.25,2166.40 424.62,2157.40 424.62,2169.20 413.25,2178.20" fill="#2E7B20" stroke="#2E7B20" stroke-width="0.6"/>
<rect x="373.65" y="2166.40" width="39.60" height="11.80" fill="#4AAE3B"/>
<polygon points="471.10,2171.90 510.70,2171.90 522.07,2162.90 482.47,2162.90" fill="#3A8F2B" stroke="#3A8F2B" stroke-width="0.6"/>
<polygon points="510.70,2171.90 522.07,2162.90 522.07,2169.20 510.70,2178.20" fill="#2E7B20" stroke="#2E7B20" stroke-width="0.6"/>
<rect x="471.10" y="2171.90" width="39.60" height="6.30" fill="#4AAE3B"/>
<polygon points="568.55,2173.00 608.15,2173.00 619.52,2164.00 579.92,2164.00" fill="#3A8F2B" stroke="#3A8F2B" stroke-width="0.6"/>
<polygon points="608.15,2173.00 619.52,2164.00 619.52,2169.20 608.15,2178.20" fill="#2E7B20" stroke="#2E7B20" stroke-width="0.6"/>
<rect x="568.55" y="2173.00" width="39.60" height="5.20" fill="#4AAE3B"/>
<polygon points="666.00,2172.60 705.60,2172.60 716.97,2163.60 677.37,2163.60" fill="#3A8F2B" stroke="#3A8F2B" stroke-width="0.6"/>
<polygon points="705.60,2172.60 716.97,2163.60 716.97,2169.20 705.60,2178.20" fill="#2E7B20" stroke="#2E7B20" stroke-width="0.6"/>
<rect x="666.00" y="2172.60" width="39.60" height="5.60" fill="#4AAE3B"/>
<polygon points="763.45,2172.70 803.05,2172.70 814.42,2163.70 774.82,2163.70" fill="#3A8F2B" stroke="#3A8F2B" stroke-width="0.6"/>
<polygon points="803.05,2172.70 814.42,2163.70 814.42,2169.20 803.05,2178.20" fill="#2E7B20" stroke="#2E7B20" stroke-width="0.6"/>
<rect x="763.45" y="2172.70" width="39.60" height="5.50" fill="#4AAE3B"/>
<polygon points="243.00,2193.40 282.60,2193.40 293.70,2184.40 254.10,2184.40" fill="#03507F" stroke="#03507F" stroke-width="0.6"/>
<polygon points="282.60,2193.40 293.70,2184.40 293.70,2194.50 282.60,2203.50" fill="#013E64" stroke="#013E64" stroke-width="0.6"/>
<rect x="243.00" y="2193.40" width="39.60" height="10.10" fill="#025E97"/>
<polygon points="340.45,2189.80 380.05,2189.80 391.15,2180.80 351.55,2180.80" fill="#03507F" stroke="#03507F" stroke-width="0.6"/>
<polygon points="380.05,2189.80 391.15,2180.80 391.15,2194.50 380.05,2203.50" fill="#013E64" stroke="#013E64" stroke-width="0.6"/>
<rect x="340.45" y="2189.80" width="39.60" height="13.70" fill="#025E97"/>
<polygon points="437.90,2200.10 477.50,2200.10 488.60,2191.10 449.00,2191.10" fill="#03507F" stroke="#03507F" stroke-width="0.6"/>
<polygon points="477.50,2200.10 488.60,2191.10 488.60,2194.50 477.50,2203.50" fill="#013E64" stroke="#013E64" stroke-width="0.6"/>
<rect x="437.90" y="2200.10" width="39.60" height="3.40" fill="#025E97"/>
<polygon points="535.35,2200.10 574.95,2200.10 586.05,2191.10 546.45,2191.10" fill="#03507F" stroke="#03507F" stroke-width="0.6"/>
<polygon points="574.95,2200.10 586.05,2191.10 586.05,2194.50 574.95,2203.50" fill="#013E64" stroke="#013E64" stroke-width="0.6"/>
<rect x="535.35" y="2200.10" width="39.60" height="3.40" fill="#025E97"/>
<polygon points="632.80,2200.10 672.40,2200.10 683.50,2191.10 643.90,2191.10" fill="#03507F" stroke="#03507F" stroke-width="0.6"/>
<polygon points="672.40,2200.10 683.50,2191.10 683.50,2194.50 672.40,2203.50" fill="#013E64" stroke="#013E64" stroke-width="0.6"/>
<rect x="632.80" y="2200.10" width="39.60" height="3.40" fill="#025E97"/>
<polygon points="730.25,2200.30 769.85,2200.30 780.95,2191.30 741.35,2191.30" fill="#03507F" stroke="#03507F" stroke-width="0.6"/>
<polygon points="769.85,2200.30 780.95,2191.30 780.95,2194.50 769.85,2203.50" fill="#013E64" stroke="#013E64" stroke-width="0.6"/>
<rect x="730.25" y="2200.30" width="39.60" height="3.20" fill="#025E97"/>
<line x1="203.00" y1="1537.70" x2="203.00" y2="2212.50" stroke="#D9D9D9" stroke-width="3"/>
<line x1="201.50" y1="2211.00" x2="788.50" y2="2211.00" stroke="#D9D9D9" stroke-width="3"/>
<line x1="203.00" y1="1537.70" x2="222.00" y2="1537.70" stroke="#D9D9D9" stroke-width="3"/>
<line x1="203.00" y1="1649.92" x2="222.00" y2="1649.92" stroke="#D9D9D9" stroke-width="3"/>
<line x1="203.00" y1="1762.13" x2="222.00" y2="1762.13" stroke="#D9D9D9" stroke-width="3"/>
<line x1="203.00" y1="1874.35" x2="222.00" y2="1874.35" stroke="#D9D9D9" stroke-width="3"/>
<line x1="203.00" y1="1986.57" x2="222.00" y2="1986.57" stroke="#D9D9D9" stroke-width="3"/>
<line x1="203.00" y1="2098.78" x2="222.00" y2="2098.78" stroke="#D9D9D9" stroke-width="3"/>
<line x1="203.00" y1="2211.00" x2="222.00" y2="2211.00" stroke="#D9D9D9" stroke-width="3"/>
<line x1="300.40" y1="2192.00" x2="300.40" y2="2211.00" stroke="#D9D9D9" stroke-width="3"/>
<line x1="397.80" y1="2192.00" x2="397.80" y2="2211.00" stroke="#D9D9D9" stroke-width="3"/>
<line x1="495.30" y1="2192.00" x2="495.30" y2="2211.00" stroke="#D9D9D9" stroke-width="3"/>
<line x1="592.60" y1="2192.00" x2="592.60" y2="2211.00" stroke="#D9D9D9" stroke-width="3"/>
<line x1="690.10" y1="2192.00" x2="690.10" y2="2211.00" stroke="#D9D9D9" stroke-width="3"/>
<line x1="787.90" y1="2192.00" x2="787.90" y2="2211.00" stroke="#D9D9D9" stroke-width="3"/>
<g font-family="Liberation Sans" font-weight="bold" style="font-kerning:none">
<text x="103.06" y="221.80" font-size="49.50" textLength="55.06" lengthAdjust="spacingAndGlyphs" fill="#595959">18</text>
<text x="102.92" y="332.48" font-size="49.50" textLength="55.06" lengthAdjust="spacingAndGlyphs" fill="#595959">15</text>
<text x="103.52" y="443.16" font-size="49.50" textLength="55.06" lengthAdjust="spacingAndGlyphs" fill="#595959">12</text>
<text x="130.91" y="553.84" font-size="49.50" textLength="27.53" lengthAdjust="spacingAndGlyphs" fill="#595959">9</text>
<text x="130.86" y="664.52" font-size="49.50" textLength="27.53" lengthAdjust="spacingAndGlyphs" fill="#595959">6</text>
<text x="130.86" y="775.20" font-size="49.50" textLength="27.53" lengthAdjust="spacingAndGlyphs" fill="#595959">3</text>
<text x="131.10" y="885.88" font-size="49.50" textLength="27.53" lengthAdjust="spacingAndGlyphs" fill="#595959">0</text>
<text x="223.02" y="956.90" font-size="49.50" textLength="68.39" lengthAdjust="spacingAndGlyphs" fill="#595959">ω1</text>
<text x="319.20" y="956.90" font-size="49.50" textLength="69.02" lengthAdjust="spacingAndGlyphs" fill="#595959">ω2</text>
<text x="415.41" y="956.90" font-size="49.50" textLength="68.82" lengthAdjust="spacingAndGlyphs" fill="#595959">ω3</text>
<text x="511.65" y="956.90" font-size="49.50" textLength="67.26" lengthAdjust="spacingAndGlyphs" fill="#595959">ω4</text>
<text x="607.82" y="956.90" font-size="49.50" textLength="68.39" lengthAdjust="spacingAndGlyphs" fill="#595959">ω5</text>
<text x="704.01" y="956.90" font-size="49.50" textLength="68.82" lengthAdjust="spacingAndGlyphs" fill="#595959">ω6</text>
<text x="169.31" y="1059.70" font-size="49.50" textLength="688.68" lengthAdjust="spacingAndGlyphs" fill="#595959">Number of displacement data</text>
<text x="1038.37" y="723.60" font-size="49.50" textLength="158.82" lengthAdjust="spacingAndGlyphs" fill="#595959">ε0 [20]</text>
<text x="1001.83" y="774.20" font-size="49.50" textLength="53.96" lengthAdjust="spacingAndGlyphs" fill="#595959">ε2</text>
<text x="936.10" y="822.30" font-size="49.50" textLength="52.07" lengthAdjust="spacingAndGlyphs" fill="#595959">ε4</text>
<text x="869.41" y="872.50" font-size="49.50" textLength="54.50" lengthAdjust="spacingAndGlyphs" fill="#595959">ε6</text>
<text x="1114.92" y="829.40" font-size="49.50" textLength="252.78" lengthAdjust="spacingAndGlyphs" fill="#595959">Number of</text>
<text x="1129.13" y="899.20" font-size="49.50" textLength="237.13" lengthAdjust="spacingAndGlyphs" fill="#595959">additional</text>
<text x="1194.96" y="966.80" font-size="49.50" textLength="102.12" lengthAdjust="spacingAndGlyphs" fill="#595959">data</text>
<g transform="translate(70.7,656.1) rotate(-90)"><text x="-3.27" y="0.00" font-size="49.50" textLength="252.71" lengthAdjust="spacingAndGlyphs" fill="#595959">NMAPE(%)</text></g>
<text x="95.32" y="1557.50" font-size="50.00" textLength="55.62" lengthAdjust="spacingAndGlyphs" fill="#595959">18</text>
<text x="95.18" y="1669.18" font-size="50.00" textLength="55.62" lengthAdjust="spacingAndGlyphs" fill="#595959">15</text>
<text x="95.79" y="1780.86" font-size="50.00" textLength="55.62" lengthAdjust="spacingAndGlyphs" fill="#595959">12</text>
<text x="123.45" y="1892.54" font-size="50.00" textLength="27.81" lengthAdjust="spacingAndGlyphs" fill="#595959">9</text>
<text x="123.40" y="2004.22" font-size="50.00" textLength="27.81" lengthAdjust="spacingAndGlyphs" fill="#595959">6</text>
<text x="123.40" y="2115.90" font-size="50.00" textLength="27.81" lengthAdjust="spacingAndGlyphs" fill="#595959">3</text>
<text x="123.64" y="2227.58" font-size="50.00" textLength="27.81" lengthAdjust="spacingAndGlyphs" fill="#595959">0</text>
<text x="217.04" y="2299.70" font-size="50.00" textLength="69.34" lengthAdjust="spacingAndGlyphs" fill="#595959">ω1</text>
<text x="314.47" y="2299.70" font-size="50.00" textLength="69.98" lengthAdjust="spacingAndGlyphs" fill="#595959">ω2</text>
<text x="411.93" y="2299.70" font-size="50.00" textLength="69.77" lengthAdjust="spacingAndGlyphs" fill="#595959">ω3</text>
<text x="509.42" y="2299.70" font-size="50.00" textLength="68.19" lengthAdjust="spacingAndGlyphs" fill="#595959">ω4</text>
<text x="606.84" y="2299.70" font-size="50.00" textLength="69.34" lengthAdjust="spacingAndGlyphs" fill="#595959">ω5</text>
<text x="704.28" y="2299.70" font-size="50.00" textLength="69.77" lengthAdjust="spacingAndGlyphs" fill="#595959">ω6</text>
<text x="161.86" y="2403.20" font-size="50.00" textLength="698.32" lengthAdjust="spacingAndGlyphs" fill="#595959">Number of displacement data</text>
<text x="1041.42" y="2064.30" font-size="50.00" textLength="37.67" lengthAdjust="spacingAndGlyphs" fill="#595959"><tspan font-style="italic" font-weight="normal">ϕ</tspan></text>
<text x="1080.05" y="2064.30" font-size="50.00" textLength="27.48" lengthAdjust="spacingAndGlyphs" fill="#595959">0</text>
<text x="1135.44" y="2064.30" font-size="50.00" textLength="161.09" lengthAdjust="spacingAndGlyphs" fill="#595959">ε0 [20]</text>
<rect x="1106.60" y="2069.90" width="30.00" height="5.80" fill="#595959"/>
<text x="1002.89" y="2115.10" font-size="50.00" textLength="41.51" lengthAdjust="spacingAndGlyphs" fill="#595959"><tspan font-style="italic" font-weight="normal">ϕ</tspan></text>
<text x="1041.29" y="2115.10" font-size="50.00" textLength="29.11" lengthAdjust="spacingAndGlyphs" fill="#595959">2</text>
<text x="1098.81" y="2115.10" font-size="50.00" textLength="54.51" lengthAdjust="spacingAndGlyphs" fill="#595959">ε2</text>
<rect x="1070.40" y="2120.40" width="28.30" height="6.30" fill="#595959"/>
<text x="936.86" y="2163.60" font-size="50.00" textLength="40.38" lengthAdjust="spacingAndGlyphs" fill="#595959"><tspan font-style="italic" font-weight="normal">ϕ</tspan></text>
<text x="975.26" y="2163.60" font-size="50.00" textLength="27.20" lengthAdjust="spacingAndGlyphs" fill="#595959">4</text>
<text x="1032.78" y="2163.60" font-size="50.00" textLength="52.59" lengthAdjust="spacingAndGlyphs" fill="#595959">ε4</text>
<rect x="1003.20" y="2168.60" width="29.40" height="6.30" fill="#595959"/>
<text x="870.76" y="2214.80" font-size="50.00" textLength="40.38" lengthAdjust="spacingAndGlyphs" fill="#595959"><tspan font-style="italic" font-weight="normal">ϕ</tspan></text>
<text x="908.99" y="2214.80" font-size="50.00" textLength="28.99" lengthAdjust="spacingAndGlyphs" fill="#595959">6</text>
<text x="965.58" y="2214.80" font-size="50.00" textLength="55.36" lengthAdjust="spacingAndGlyphs" fill="#595959">ε6</text>
<rect x="936.70" y="2220.00" width="29.80" height="6.30" fill="#595959"/>
<text x="1116.18" y="2171.20" font-size="50.00" textLength="255.42" lengthAdjust="spacingAndGlyphs" fill="#595959">Number of</text>
<text x="1131.80" y="2240.30" font-size="50.00" textLength="241.52" lengthAdjust="spacingAndGlyphs" fill="#595959">additional</text>
<text x="1199.65" y="2309.50" font-size="50.00" textLength="102.53" lengthAdjust="spacingAndGlyphs" fill="#595959">data</text>
<g transform="translate(63.3,1997.3) rotate(-90)"><text x="-3.32" y="0.00" font-size="50.00" textLength="256.60" lengthAdjust="spacingAndGlyphs" fill="#595959">NMAPE(%)</text></g>
</g>
<text x="0" y="0" font-size="86.00" font-family="Liberation Serif" font-weight="normal" fill="#000" transform="translate(651.66,1220.40) scale(0.8828,1)">(</text>
<text x="0" y="0" font-size="88.00" font-family="Liberation Serif" font-weight="bold" fill="#000" transform="translate(677.73,1220.40) scale(1.0461,1)">b</text>
<text x="0" y="0" font-size="86.00" font-family="Liberation Serif" font-weight="normal" fill="#000" transform="translate(729.15,1220.40) scale(0.9191,1)">)</text>
<text x="0" y="0" font-size="86.00" font-family="Liberation Serif" font-weight="normal" fill="#000" transform="translate(658.85,2548.85) scale(0.8874,1)">(</text>
<text x="0" y="0" font-size="88.00" font-family="Liberation Serif" font-weight="bold" fill="#000" transform="translate(686.24,2548.85) scale(0.9185,1)">c</text>
<text x="0" y="0" font-size="86.00" font-family="Liberation Serif" font-weight="normal" fill="#000" transform="translate(722.75,2548.85) scale(0.8828,1)">)</text>
</svg>
</body></html>
